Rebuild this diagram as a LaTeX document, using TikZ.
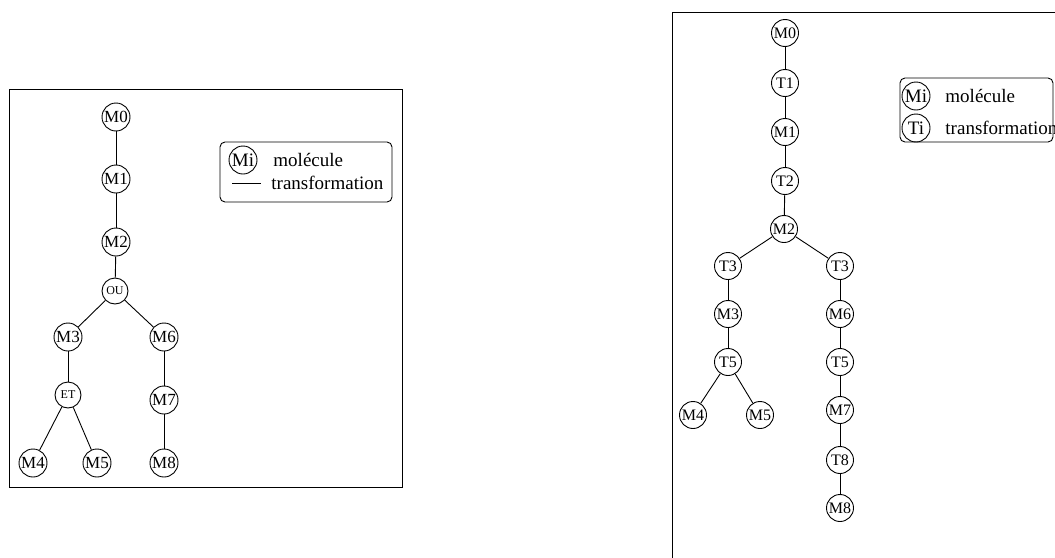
\documentclass[tikz,border=0pt]{standalone}
\usepackage{fontspec}
\setmainfont{Liberation Serif}
\begin{document}
\begin{tikzpicture}[x=1pt,y=-1pt, line width=0.9pt,
  mol/.style={circle, draw, minimum size=28pt, inner sep=0pt, font=\fontsize{17}{17}\selectfont},
  molr/.style={mol, minimum size=27pt, font=\fontsize{16}{16}\selectfont},
  op/.style={mol, minimum size=26pt, font=\fontsize{12}{12}\selectfont},
  leg/.style={circle, draw, minimum size=28pt, inner sep=0pt, font=\fontsize{19}{19}\selectfont},
  legtxt/.style={anchor=west, inner sep=0pt, font=\fontsize{19}{19}\selectfont},
  frame/.style={draw, line width=1pt},
  legbox/.style={draw, rounded corners=5pt}]
\clip (0,0) rectangle (1055,557);
\useasboundingbox (0,0) rectangle (1055,557);
% ---------- left diagram ----------
\draw[frame] (9,89) rectangle (402,487);
\node[mol] (lM0) at (116,117) {M0};
\node[mol] (lM1) at (116,179) {M1};
\node[mol] (lM2) at (116,242) {M2};
\node[op]  (lOU) at (115,291) {OU};
\node[mol] (lM3) at (68,337) {M3};
\node[mol] (lM6) at (164,337) {M6};
\node[op]  (lET) at (68,395) {ET};
\node[mol] (lM7) at (164,400) {M7};
\node[mol] (lM4) at (33,463) {M4};
\node[mol] (lM5) at (97,463) {M5};
\node[mol] (lM8) at (164,463) {M8};
\draw (lM0) -- (lM1);
\draw (lM1) -- (lM2);
\draw (lM2) -- (lOU);
\draw (lOU) -- (lM3);
\draw (lOU) -- (lM6);
\draw (lM3) -- (lET);
\draw (lET) -- (lM4);
\draw (lET) -- (lM5);
\draw (lM6) -- (lM7);
\draw (lM7) -- (lM8);
% left legend
\draw[legbox] (220,142) rectangle (392,202);
\node[leg] (lLegM) at (243,160) {Mi};
\node[legtxt] (lLegMt) at (273,160) {molécule};
\coordinate (lDashA) at (232,183);
\coordinate (lDashB) at (261,183);
\draw (lDashA) -- (lDashB);
\node[legtxt] (lLegTt) at (271,183) {transformation};
% ---------- right diagram ----------
\draw[frame] (672,12) rectangle (1100,600);
\node[molr] (rM0) at (785,33) {M0};
\node[molr] (rT1) at (785,83) {T1};
\node[molr] (rM1) at (785,132) {M1};
\node[molr] (rT2) at (785,181) {T2};
\node[molr] (rM2) at (784,229) {M2};
\node[molr] (rT3a) at (728,266) {T3};
\node[molr] (rT3b) at (840,266) {T3};
\node[molr] (rM3) at (728,314) {M3};
\node[molr] (rM6) at (840,314) {M6};
\node[molr] (rT5a) at (728,362) {T5};
\node[molr] (rT5b) at (840,362) {T5};
\node[molr] (rM4) at (693,415) {M4};
\node[molr] (rM5) at (760,415) {M5};
\node[molr] (rM7) at (840,410) {M7};
\node[molr] (rT8) at (840,460) {T8};
\node[molr] (rM8) at (840,508) {M8};
\draw (rM0) -- (rT1);
\draw (rT1) -- (rM1);
\draw (rM1) -- (rT2);
\draw (rT2) -- (rM2);
\draw (rM2) -- (rT3a);
\draw (rM2) -- (rT3b);
\draw (rT3a) -- (rM3);
\draw (rM3) -- (rT5a);
\draw (rT5a) -- (rM4);
\draw (rT5a) -- (rM5);
\draw (rT3b) -- (rM6);
\draw (rM6) -- (rT5b);
\draw (rT5b) -- (rM7);
\draw (rM7) -- (rT8);
\draw (rT8) -- (rM8);
% right legend
\draw[legbox] (900,78) rectangle (1053,142);
\node[leg] (rLegM) at (916,96) {Mi};
\node[legtxt] (rLegMt) at (945,96) {molécule};
\node[leg] (rLegT) at (916,128) {Ti};
\node[legtxt] (rLegTt) at (945,128) {transformation};
\end{tikzpicture}
\end{document}
